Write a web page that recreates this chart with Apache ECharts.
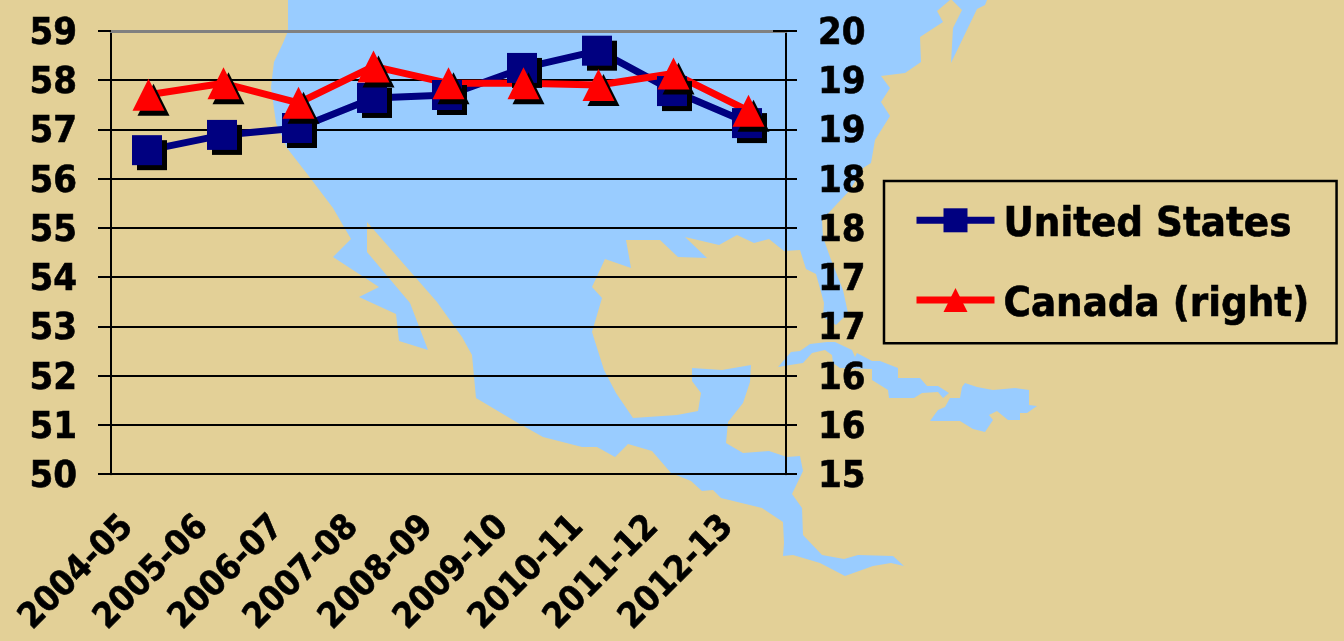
<!DOCTYPE html>
<html>
<head>
<meta charset="utf-8">
<style>html,body{margin:0;padding:0;background:#E3D097}#c{width:1344px;height:641px}</style>
<script src="https://cdn.jsdelivr.net/npm/echarts@6/dist/echarts.min.js"></script>
</head>
<body>
<div id="c"></div>
<script>
// Series read per school year
const years = ['2004-05','2005-06','2006-07','2007-08','2008-09','2009-10','2010-11','2011-12','2012-13'];
const unitedStates = [56.58,56.89,57.03,57.64,57.70,58.25,58.60,57.78,57.13];
const canadaRight = [19.28,19.41,19.19,19.60,19.41,19.41,19.39,19.52,19.10];

// Decorative map behind the plot: sea shapes on a land-coloured page
const seaMain = [[288,0],[288,31],[283,43],[274,62],[271,87],[276,123],[287,148],[308,175],[333,208],[351,239],[333,257],[379,287],[359,297],[396,314],[399,341],[428,350],[410,303],[367,252],[367,222],[437,302],[462,337],[472,355],[476,398],[518,423],[543,437],[582,447],[597,447],[615,457],[628,444],[652,451],[671,473],[691,481],[702,491],[713,490],[721,498],[762,508],[783,522],[784,543],[783,556],[793,555],[820,563],[845,576],[873,566],[891,563],[904,566],[893,556],[858,555],[844,559],[822,555],[803,535],[802,508],[792,494],[803,471],[800,456],[787,457],[769,451],[743,453],[726,443],[728,422],[743,403],[750,382],[751,365],[722,370],[692,368],[692,381],[701,393],[698,411],[677,415],[633,418],[616,393],[604,370],[592,332],[602,298],[592,287],[605,259],[631,268],[626,240],[660,240],[678,257],[707,258],[685,237],[719,245],[737,235],[754,243],[769,239],[784,251],[800,250],[806,269],[816,274],[824,303],[823,317],[836,325],[848,313],[843,290],[830,257],[823,237],[822,220],[850,190],[863,168],[871,163],[875,140],[890,116],[881,102],[890,88],[881,76],[905,73],[921,62],[920,37],[943,22],[937,11],[950,0],[952,0],[962,10],[953,28],[951,63],[977,9],[985,5],[987,0]];
const seaChannel = [[778,367],[791,352],[800,351],[810,344],[827,342],[835,342],[852,350],[855,357],[857,353],[872,361],[880,361],[898,368],[898,378],[920,378],[927,386],[938,386],[949,393],[943,398],[938,392],[922,393],[914,398],[889,398],[888,390],[872,380],[872,369],[840,368],[833,363],[832,355],[825,350],[812,353],[803,363],[790,365]];
const seaIsland = [[960,398],[962,387],[965,383],[977,387],[993,390],[1015,388],[1029,390],[1029,405],[1037,406],[1027,413],[1020,413],[1020,420],[1008,420],[997,411],[989,415],[993,420],[985,432],[973,429],[960,421],[930,421],[938,410],[945,407],[950,398]];

const ink = '#000000';
const family = '"DejaVu Sans Condensed","DejaVu Sans"';
const heavy = {textBorderColor:ink,textBorderWidth:0.6};
const tickFont = Object.assign({fontFamily:family,fontWeight:'bold',fontSize:38,lineHeight:38,color:ink,verticalAlign:'top',padding:[-16,0,0,0]},heavy);
const yearFont = Object.assign({fontFamily:family,fontWeight:'bold',fontSize:35,color:ink,padding:[0,29,0,0]},heavy);
const legendFont = Object.assign({fontFamily:family,fontWeight:'bold',fontSize:41.5,color:ink,padding:[10,0,0,4]},heavy);
const markShadow = {shadowColor:'#000',shadowBlur:0,shadowOffsetX:5,shadowOffsetY:5};
const flat = {shadowColor:'transparent',shadowBlur:0,shadowOffsetX:0,shadowOffsetY:0};

const seaShape = pts => ({type:'polygon',silent:true,z:-10,shape:{points:pts},style:{fill:'#99CCFF'}});

const chart = echarts.init(document.getElementById('c'),null,{renderer:'canvas'});
chart.setOption({
  animation:false,
  backgroundColor:'#E3D097',
  graphic:{elements:[seaShape(seaMain),seaShape(seaChannel),seaShape(seaIsland)]},
  grid:{left:111,right:558,top:31,bottom:166.8,containLabel:false},
  legend:{
    orient:'vertical',left:884,top:181,
    padding:[23,27,17,29],itemGap:37,itemWidth:78,itemHeight:30,
    borderColor:ink,borderWidth:2.5,
    formatter:name=>'{t|'+name+'}',
    textStyle:{rich:{t:legendFont}},
    itemStyle:flat,
    lineStyle:{width:7},
    data:['United States','Canada (right)']
  },
  xAxis:[
    {type:'category',data:years,boundaryGap:true,
     axisLine:{onZero:false,lineStyle:{color:ink,width:2}},
     axisTick:{length:11,lineStyle:{color:ink,width:2},alignWithLabel:false},
     axisLabel:Object.assign({},yearFont,{rotate:45,margin:27,interval:0}),
     splitLine:{show:false}},
    // plot's upper edge
    {type:'category',data:years,position:'top',
     axisLine:{onZero:false,lineStyle:{color:'#808080',width:3}},
     axisTick:{show:false},axisLabel:{show:false},splitLine:{show:false}}
  ],
  yAxis:[
    {type:'value',min:50,max:59,interval:1,position:'left',
     axisLine:{show:true,lineStyle:{color:ink,width:2}},
     axisTick:{show:true,length:13,lineStyle:{color:ink,width:2}},
     axisLabel:Object.assign({},tickFont,{margin:34}),
     splitLine:{show:true,lineStyle:{width:2,color:[ink,ink,ink,ink,ink,ink,ink,ink,ink,'transparent']}}},
    {type:'value',min:15,max:20,interval:5/9,position:'right',
     axisLine:{show:true,lineStyle:{color:ink,width:2}},
     axisTick:{show:true,length:11,lineStyle:{color:ink,width:2}},
     axisLabel:Object.assign({},tickFont,{margin:32,formatter:v=>String(Math.round(v))}),
     splitLine:{show:false}},
    {type:'value',min:15,max:20,interval:5/9,position:'right',
     axisLine:{show:false},
     axisTick:{show:true,inside:true,length:13,lineStyle:{color:ink,width:2}},
     axisLabel:{show:false},splitLine:{show:false}}
  ],
  series:[
    {name:'United States',type:'line',yAxisIndex:0,data:unitedStates,
     symbol:'rect',symbolSize:30,symbolOffset:[-1.5,0],showAllSymbol:true,
     lineStyle:{color:'#000080',width:7},
     itemStyle:Object.assign({color:'#000080'},markShadow)},
    {name:'Canada (right)',type:'line',yAxisIndex:1,data:canadaRight,
     symbol:'triangle',symbolSize:32,showAllSymbol:true,
     lineStyle:{color:'#FF0000',width:7},
     itemStyle:Object.assign({color:'#FF0000'},markShadow)}
  ]
});
</script>
</body>
</html>
